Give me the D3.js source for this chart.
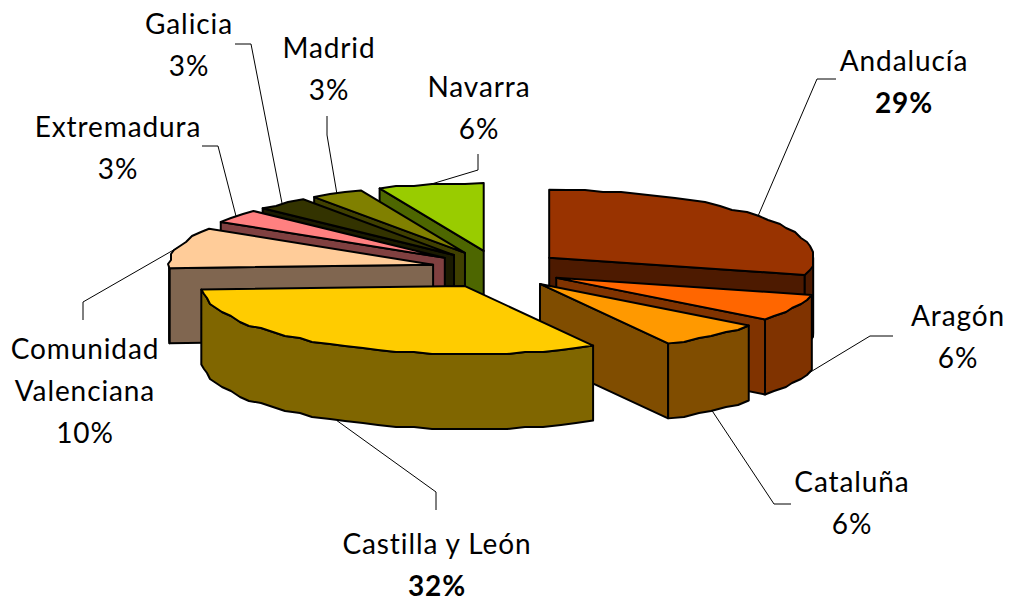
<!DOCTYPE html>
<html>
<head>
<meta charset="utf-8">
<script src="https://cdn.jsdelivr.net/npm/d3@7"></script>
<style>
  html, body { margin: 0; background: #fff; }
  text { font-family: Lato, "Open Sans", sans-serif; font-size: 28px; letter-spacing: 0.9px; fill: #000; text-anchor: middle; }
</style>
</head>
<body>
<svg id="chart" width="1010" height="599"></svg>
<script>
const regions = ['Andalucía', 'Aragón', 'Cataluña', 'Castilla y León', 'Comunidad Valenciana',
                 'Extremadura', 'Galicia', 'Madrid', 'Navarra'];
// Counts; they round to the printed percentages.
const counts = [9, 2, 2, 10, 3, 1, 1, 1, 2];
const topColors = ['#993300', '#ff6600', '#ff9900', '#ffcc00', '#ffcc99',
                   '#ff8080', '#333300', '#808000', '#99cc00'];
const wallColors = ['#4d1a00', '#803300', '#804d00', '#806600', '#806650',
                    '#804040', '#1a1a00', '#404000', '#4d6600'];

// Pie geometry: flat ellipse, no perspective in the original.
const cx = 497, cy = 269.5, rx = 264, ry = 68, depth = 75, explodeX = 66, explodeY = 19;
const snapX = 3, snapY = 2;  // the original rim is visibly jagged

// label layout, same order as regions. x/y: first baseline, path: leader start and bend.
const labelLayout = [
  {lines: ['Andalucía'], x: 904, y: 71, path: [[836, 79], [817, 79]], side: 'top', bold: true},
  {lines: ['Aragón'], x: 958, y: 326, path: [[893, 336], [870, 336]], side: 'bottom', shift: -8},
  {lines: ['Cataluña'], x: 852, y: 492, path: [[791, 504], [774, 504]], side: 'bottom'},
  {lines: ['Castilla y León'], x: 437, y: 554, path: [[436, 510], [436, 492]], side: 'bottom', bold: true},
  {lines: ['Comunidad', 'Valenciana'], x: 85, y: 359, path: [[83, 320], [83, 302]], side: 'top'},
  {lines: ['Extremadura'], x: 118, y: 137, path: [[202, 146], [218, 146]], side: 'top'},
  {lines: ['Galicia'], x: 189, y: 34, path: [[235, 44], [251, 44]], side: 'top'},
  {lines: ['Madrid'], x: 329, y: 58, path: [[327, 116], [327, 135]], side: 'top'},
  {lines: ['Navarra'], x: 479, y: 97, path: [[478, 154], [478, 170]], side: 'top'}
];
const lineHeight = 42;

const svg = d3.select('#chart');
const toPath = d3.line();
const percent = d3.format('.0%');
const total = d3.sum(counts);

const slices = d3.pie().sort(null).value(d => d)(counts).map((s, i) => {
  const mid = (s.startAngle + s.endAngle) / 2;
  return {
    index: i,
    a0: s.startAngle,
    a1: s.endAngle,
    mid: mid,
    ax: cx + explodeX * Math.sin(mid),
    ay: cy - explodeY * Math.cos(mid)
  };
});

function rimPoint(s, a) {
  return [s.ax + rx * Math.sin(a), s.ay - ry * Math.cos(a)];
}

// Rim between two angles, sampled coarsely and snapped to a grid so it wobbles.
function rim(s, from, to) {
  const steps = Math.max(1, Math.round((to - from) / (4 * Math.PI / 180)));
  return d3.range(steps + 1).map(k => {
    const p = rimPoint(s, from + (to - from) * k / steps);
    if (k === 0 || k === steps) return p;
    return [Math.round(p[0] / snapX) * snapX, Math.round(p[1] / snapY) * snapY];
  });
}

function lowered(points) {
  return points.map(p => [p[0], p[1] + depth]);
}

function drawSlice(s) {
  const g = svg.append('g').attr('class', 'slice');
  const face = (pts, fill) => g.append('path')
      .attr('d', toPath(pts) + 'Z')
      .attr('fill', fill)
      .attr('stroke', '#000')
      .attr('stroke-width', 2)
      .attr('stroke-linejoin', 'round');
  const wall = wallColors[s.index];
  const apex = [s.ax, s.ay];

  // radial walls only show when they face the viewer
  [[s.a0, Math.sin(s.a0) < -1e-6], [s.a1, Math.sin(s.a1) > 1e-6]].forEach(([a, visible]) => {
    if (!visible) return;
    const top = [apex, rimPoint(s, a)];
    face(top.concat(lowered(top).reverse()), wall);
  });

  // outer wall, front half of the ellipse only
  const from = Math.max(s.a0, Math.PI / 2), to = Math.min(s.a1, 3 * Math.PI / 2);
  if (to > from) {
    const edge = rim(s, from, to);
    face(edge.concat(lowered(edge).reverse()), wall);
  }

  face([apex].concat(rim(s, s.a0, s.a1)), topColors[s.index]);
}

// painter's order: back slices on the left first, Castilla y León last
[8, 7, 6, 5, 4, 0, 1, 2, 3].forEach(i => drawSlice(slices[i]));

labelLayout.forEach((l, i) => {
  const s = slices[i];
  const tip = rimPoint(s, s.mid + (l.shift || 0) * Math.PI / 180);
  if (l.side === 'bottom') tip[1] += depth;
  svg.append('path')
      .attr('d', toPath(l.path.concat([tip])))
      .attr('fill', 'none')
      .attr('stroke', '#000')
      .attr('stroke-width', 1);

  const rows = l.lines.concat([percent(counts[i] / total)]);
  rows.forEach((row, r) => {
    svg.append('text')
        .attr('x', l.x)
        .attr('y', l.y + r * lineHeight)
        .attr('font-weight', l.bold && r === rows.length - 1 ? 700 : 400)
        .text(row);
  });
});
</script>
</body>
</html>
